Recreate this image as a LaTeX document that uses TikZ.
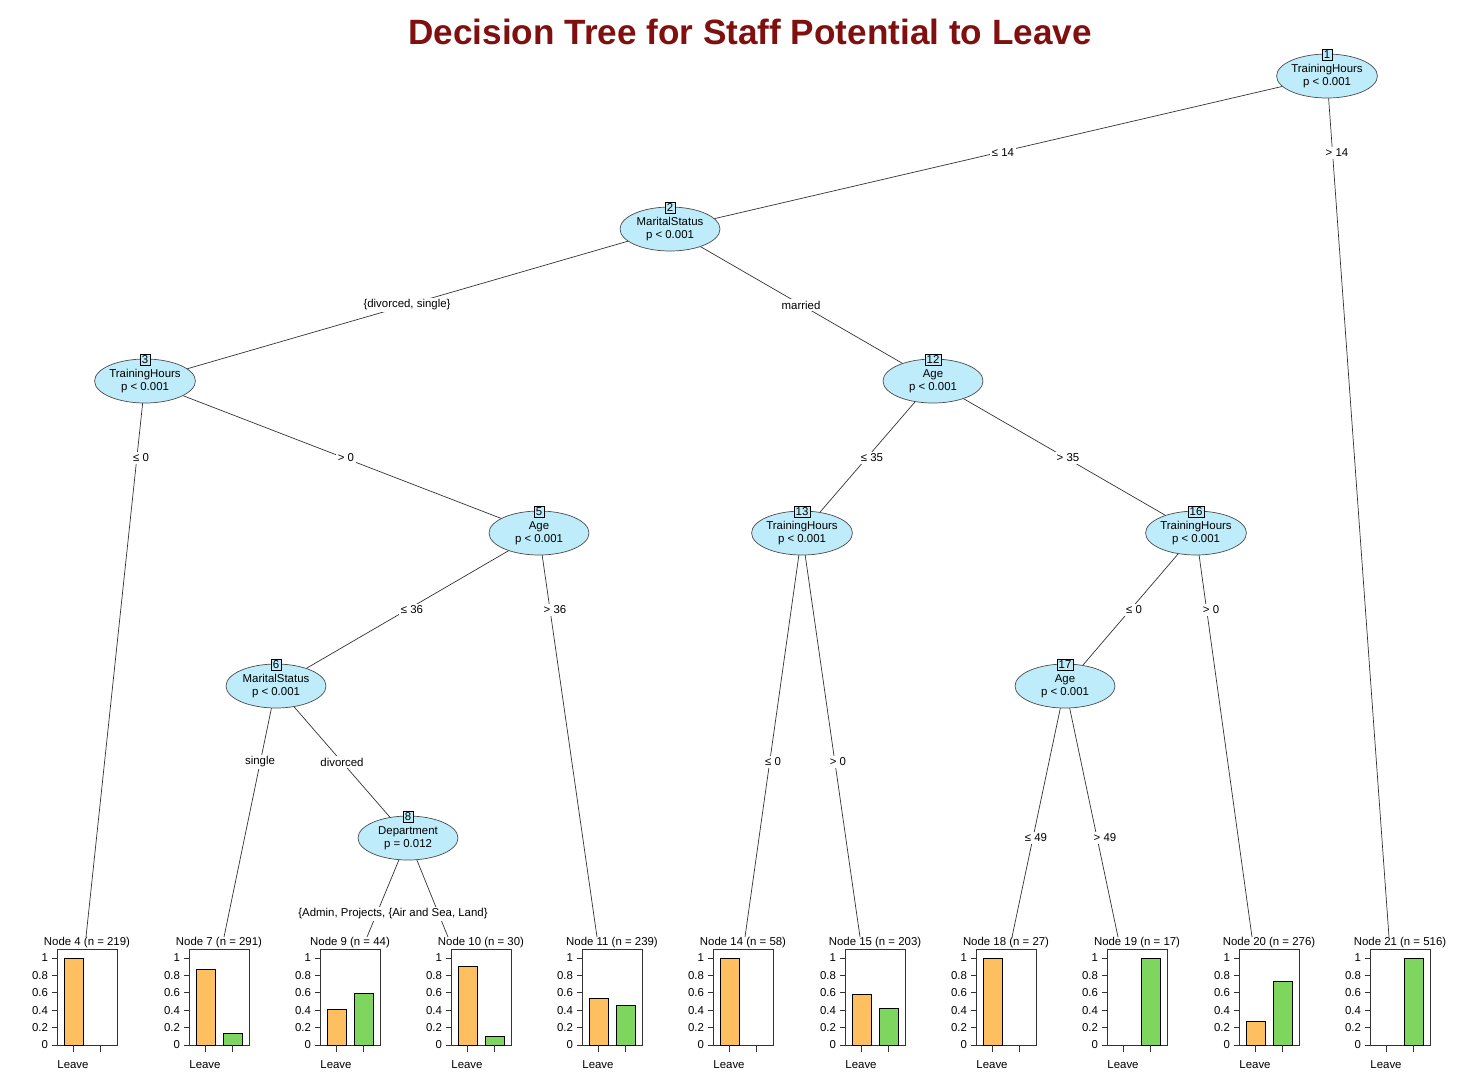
\documentclass[tikz,border=0pt]{standalone}
\usepackage{fontspec}
\setmainfont{Liberation Sans}
\usetikzlibrary{shapes.geometric}
\definecolor{nodefill}{RGB}{190,236,250}
\definecolor{barorange}{RGB}{253,191,96}
\definecolor{bargreen}{RGB}{126,214,95}
\definecolor{titlered}{RGB}{128,16,16}
\begin{document}
\begin{tikzpicture}[x=0.02cm,y=-0.02cm,
  inner/.style={ellipse,draw=black!70,fill=nodefill,minimum width=2cm,minimum height=0.88cm,inner sep=0pt,align=center,font=\fontsize{6.5}{7.5}\selectfont},
  numbox/.style={draw,fill=nodefill,inner sep=1pt,font=\fontsize{6.5}{7.5}\selectfont},
  elab/.style={fill=white,inner sep=1pt,font=\fontsize{6.5}{7.5}\selectfont},
  small/.style={font=\fontsize{6.5}{7.5}\selectfont,inner sep=1pt},
  edge/.style={draw=black!80,line width=0.4pt}]
\useasboundingbox (0,0) rectangle (1473,1080);
\node[font=\fontsize{20}{24}\selectfont\bfseries,text=titlered] (title) at (750,32) {Decision Tree for Staff Potential to Leave};
% leaf anchors
\foreach \i/\ex in {4/86,7/224,9/367,10/448,11/597,14/745,15/860,18/1012,19/1118,20/1252,21/1389}
  \coordinate (n\i) at (\ex,937);
% inner node coordinates
\coordinate (c1) at (1327,76);
\coordinate (c2) at (670,229);
\coordinate (c3) at (145,381);
\coordinate (c12) at (933,381);
\coordinate (c5) at (539,533);
\coordinate (c13) at (802,533);
\coordinate (c16) at (1196,533);
\coordinate (c6) at (276,686);
\coordinate (c17) at (1065,686);
\coordinate (c8) at (408,838);
% edges
\foreach \a/\b in {1/2,2/3,2/12,3/5,12/13,12/16,5/6,16/17,6/8}
  \draw[edge] (c\a) -- (c\b);
\draw[edge] (c1) -- (n21);
\draw[edge] (c3) -- (n4);
\draw[edge] (c5) -- (n11);
\draw[edge] (c16) -- (n20);
\draw[edge] (c6) -- (n7);
\draw[edge] (c13) -- (n14);
\draw[edge] (c13) -- (n15);
\draw[edge] (c17) -- (n18);
\draw[edge] (c17) -- (n19);
\draw[edge] (c8) -- (n9);
\draw[edge] (c8) -- (n10);
% edge labels
\node[elab] (l1) at (1003,153) {≤ 14};
\node[elab] (l2) at (1337,153) {> 14};
\node[elab] (l3) at (407,305) {\{divorced, single\}};
\node[elab] (l4) at (801,305) {married};
\node[elab] (l5) at (141,458) {≤ 0};
\node[elab] (l6) at (346,458) {> 0};
\node[elab] (l7) at (872,458) {≤ 35};
\node[elab] (l8) at (1068,458) {> 35};
\node[elab] (l9) at (412,610) {≤ 36};
\node[elab] (l10) at (555,610) {> 36};
\node[elab] (l11) at (1134,610) {≤ 0};
\node[elab] (l12) at (1211,610) {> 0};
\node[elab] (l13) at (260,762) {single};
\node[elab] (l14) at (342,762) {divorced};
\node[elab] (l15) at (773,762) {≤ 0};
\node[elab] (l16) at (838,762) {> 0};
\node[elab] (l17) at (1036,838) {≤ 49};
\node[elab] (l18) at (1105,838) {> 49};
\node[elab] (l19) at (393,914) {\{Admin, Projects, \{Air and Sea, Land\}};
% inner nodes
\foreach \i/\t/\p in {1/TrainingHours/p < 0.001,2/MaritalStatus/p < 0.001,3/TrainingHours/p < 0.001,12/Age/p < 0.001,5/Age/p < 0.001,13/TrainingHours/p < 0.001,16/TrainingHours/p < 0.001,6/MaritalStatus/p < 0.001,17/Age/p < 0.001,8/Department/p = 0.012}{
  \node[inner] (e\i) at (c\i) {\t\\\p};
  \node[numbox] (b\i) at ([yshift=-0.02cm]e\i.north) {\i};
}
% panels
\foreach \i/\lx/\va/\vb/\nn in {4/57/1.0/0/219,7/189/0.87/0.13/291,9/320/0.41/0.59/44,10/451/0.9/0.1/30,11/582/0.54/0.46/239,14/713/1.0/0/58,15/845/0.58/0.42/203,18/976/1.0/0/27,19/1107/0/1.0/17,20/1239/0.27/0.73/276,21/1370/0/1.0/516}{
  \draw[black!80] (\lx,949) rectangle (\lx+60,1045);
  \ifdim\va pt>0pt \draw[fill=barorange] (\lx+7,1045) rectangle (\lx+26,1045-87*\va);\fi
  \ifdim\vb pt>0pt \draw[fill=bargreen] (\lx+34,1045) rectangle (\lx+53,1045-87*\vb);\fi
  \foreach \v/\s in {0/0,0.2/0.2,0.4/0.4,0.6/0.6,0.8/0.8,1/1}{
    \draw[black!80] (\lx-5,1045-87*\v) -- (\lx,1045-87*\v);
    \node[small,anchor=east] at (\lx-7,1045-87*\v) {\s};
  }
  \draw[black!80] (\lx+16,1045) -- (\lx+16,1052);
  \draw[black!80] (\lx+43,1045) -- (\lx+43,1052);
  \node[small] at (\lx+16,1065) {Leave};
  \node[small] at (\lx+30,943) {Node \i\ (n = \nn)};
}
\end{tikzpicture}
\end{document}
